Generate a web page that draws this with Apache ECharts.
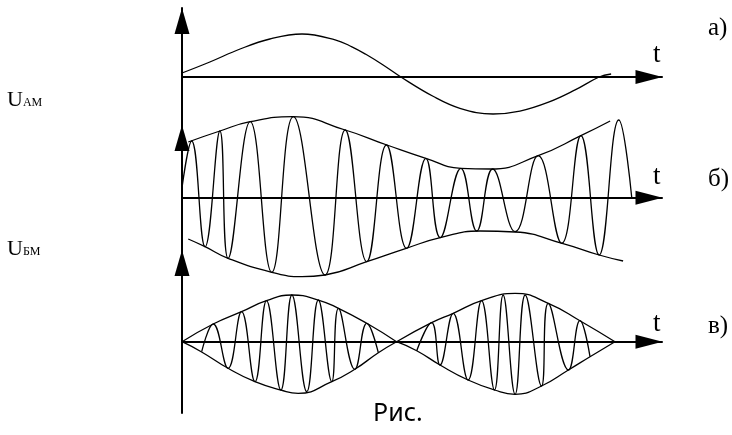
<!DOCTYPE html>
<html><head><meta charset="utf-8">
<script src="https://cdn.jsdelivr.net/npm/echarts@6/dist/echarts.min.js"></script>
<style>html,body{margin:0;padding:0;background:#fff}#c{width:732px;height:435px}</style>
</head><body><div id="c"></div>
<script>
// ---- Panel а: modulating signal (t in arbitrary units, U in arbitrary units)
const aT = [0, 0.58, 1.21, 1.83, 2.5, 3.19, 3.54, 3.83, 4.19, 4.56, 5.23, 5.79, 6.48, 7.04, 7.65, 8.19, 8.69, 8.94];
const aU = [0.4, 1.5, 2.8, 3.8, 4.3, 3.72, 3.02, 2.27, 1.2, 0, -1.93, -3.13, -3.7, -3.41, -2.49, -1.29, 0, 0.3];

// ---- Panel б: AM signal, carrier extrema and envelopes
const bCarrT = [0, 0.20, 0.48, 0.79, 0.96, 1.42, 1.87, 2.32, 2.98, 3.40, 3.85, 4.26, 4.68, 5.08, 5.38, 5.81, 6.14, 6.47, 6.94, 7.42, 7.91, 8.31, 8.69, 9.10, 9.37];
const bCarrU = [1.0, 5.67, -4.9, 6.67, -6.06, 7.6, -7.46, 8.1, -7.73, 6.77, -6.4, 5.27, -5.06, 3.94, -4.0, 2.94, -3.33, 2.87, -3.4, 4.2, -4.56, 6.2, -5.73, 7.77, 0];
const bUpT = [0.13, 0.79, 1.42, 2.31, 3.40, 4.27, 5.08, 5.81, 6.42, 7.42, 8.31, 8.92];
const bUpU = [5.57, 6.67, 7.6, 8.1, 6.77, 5.27, 3.94, 2.94, 2.87, 4.2, 6.2, 7.67];
const bLoT = [0.13, 0.48, 0.96, 1.87, 2.5, 2.98, 3.85, 4.67, 5.38, 6.21, 6.94, 7.92, 8.69, 9.19];
const bLoU = [-4.13, -4.9, -6.06, -7.46, -7.9, -7.73, -6.4, -5.06, -4.0, -3.33, -3.43, -4.56, -5.73, -6.33];

// ---- Panel в: balanced (DSB) modulation, two lobes
const vCarr1T = [0.41, 0.65, 0.96, 1.24, 1.52, 1.76, 2.06, 2.29, 2.60, 2.84, 3.12, 3.26, 3.60, 3.85, 4.09];
const vCarr1U = [-1.0, 1.77, -2.66, 3.0, -4.0, 4.1, -4.83, 4.67, -5.0, 4.17, -4.0, 3.34, -2.76, 1.84, -1.1];
const vCarr2T = [4.89, 5.20, 5.375, 5.65, 5.96, 6.24, 6.51, 6.69, 6.94, 7.15, 7.49, 7.63, 8.05, 8.29, 8.5];
const vCarr2U = [-0.9, 1.9, -2.33, 2.84, -3.83, 4.1, -4.83, 4.67, -5.26, 4.67, -4.43, 3.84, -2.83, 2.1, -1.5];
const vUpT = [0, 0.65, 1.24, 1.76, 2.29, 2.84, 3.26, 3.85, 4.47, 5.20, 5.65, 6.24, 6.94, 7.63, 8.29, 9.02];
const vUpU = [0, 1.77, 3.0, 4.1, 4.67, 4.17, 3.34, 1.84, 0, 1.9, 2.84, 4.1, 4.84, 3.84, 2.1, 0];
const vLoT = [0, 0.40, 0.96, 1.52, 2.06, 2.42, 3.12, 3.60, 4.09, 4.47, 4.89, 5.375, 5.96, 6.51, 6.94, 7.49, 8.05, 8.5, 9.02];
const vLoU = [0, -1.0, -2.66, -4.0, -4.83, -5.16, -4.0, -2.76, -1.1, 0, -0.9, -2.33, -3.83, -4.83, -5.26, -4.43, -2.83, -1.5, 0];

// ---- Texts
const panelLabels = ['а)', 'б)', 'в)'];
const timeName = 't';
const sideLabels = [['U', 'АМ'], ['U', 'БМ']];
const caption = 'Рис.';

const pair = (ts, us) => ts.map((t, i) => [t, us[i]]);
function splitLobes(pts) {
  const out = []; let cur = [];
  pts.forEach((p, i) => {
    cur.push(p);
    if (p[1] === 0 && i > 0 && i < pts.length - 1) { out.push(cur); cur = [p]; }
  });
  out.push(cur);
  return out;
}

const chart = echarts.init(document.getElementById('c'), null, {renderer: 'canvas'});
const grids = [
  {left: 182, top: 8, width: 480, height: 117},
  {left: 182, top: 125, width: 480, height: 125},
  {left: 182, top: 250, width: 480, height: 163}
];
const yRanges = [[-4.8, 6.9], [-5.23, 7.27], [-7.13, 9.17]];
const axisLineCommon = {show: true, lineStyle: {color: '#000', width: 2}, symbol: ['none', 'triangle'], symbolOffset: [0, -13]};
const xAxes = grids.map((g, i) => ({
  gridIndex: i, type: 'value', min: 0, max: 10,
  axisLine: Object.assign({}, axisLineCommon, {onZero: true, symbolSize: [14, 27]}),
  axisTick: {show: false}, axisLabel: {show: false}, splitLine: {show: false}
}));
const yAxes = grids.map((g, i) => ({
  gridIndex: i, type: 'value', min: yRanges[i][0], max: yRanges[i][1],
  axisLine: Object.assign({}, axisLineCommon, {onZero: false, symbolSize: [15, 26]}),
  axisTick: {show: false}, axisLabel: {show: false}, splitLine: {show: false}
}));

function line(data, gi, smooth) {
  return {type: 'line', data, xAxisIndex: gi, yAxisIndex: gi, smooth: smooth, symbol: 'none',
    clip: false, silent: true, animation: false, lineStyle: {color: '#000', width: 1.3}};
}
const series = [];
series.push(line(pair(aT, aU), 0, 0.4));
series.push(line(pair(bCarrT, bCarrU), 1, 0.45));
series.push(line(pair(bUpT, bUpU), 1, 0.5));
series.push(line(pair(bLoT, bLoU), 1, 0.5));
series.push(line(pair(vCarr1T, vCarr1U), 2, 0.45));
series.push(line(pair(vCarr2T, vCarr2U), 2, 0.45));
splitLobes(pair(vUpT, vUpU)).forEach(l => series.push(line(l, 2, 0.5)));
splitLobes(pair(vLoT, vLoU)).forEach(l => series.push(line(l, 2, 0.5)));

const serif = 'Liberation Serif';
const graphic = [];
const labelY = [30, 181, 328];
const tY = [56, 178, 325];
panelLabels.forEach((s, i) => {
  graphic.push({type: 'text', left: 708, top: labelY[i] - 14, style: {text: s, font: '25px "' + serif + '"', fill: '#000'}});
  graphic.push({type: 'text', left: 653, top: tY[i] - 15, style: {text: timeName, font: '27px "' + serif + '"', fill: '#000'}});
});
const sideY = [101, 250];
sideLabels.forEach((p, i) => {
  graphic.push({type: 'text', left: 7, top: sideY[i] - 12, style: {
    text: '{u|' + p[0] + '}{s|' + p[1] + '}',
    rich: {u: {fontFamily: serif, fontSize: 22, color: '#000', verticalAlign: 'bottom'},
           s: {fontFamily: serif, fontSize: 12, color: '#000', verticalAlign: 'bottom', padding: [0, 0, 2, 0]}}
  }});
});
graphic.push({type: 'text', left: 373, top: 401, style: {text: caption, font: '25px "Noto Sans"', fill: '#000'}});

chart.setOption({animation: false, grid: grids, xAxis: xAxes, yAxis: yAxes, series, graphic});
</script></body></html>
